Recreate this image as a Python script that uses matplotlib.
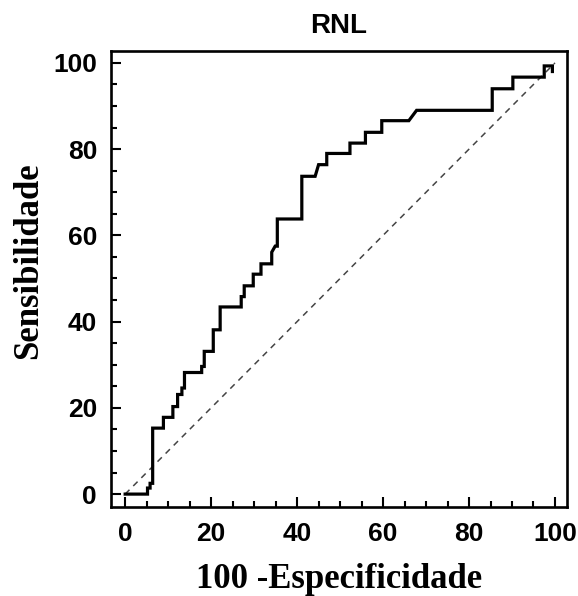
import matplotlib
matplotlib.use("Agg")
import matplotlib.pyplot as plt
from matplotlib.ticker import MultipleLocator

# ROC curve vertices (100 - specificity, sensitivity)
fpr = [0, 5.2, 5.2, 5.8, 5.8, 6.4, 6.4, 8.9, 8.9, 11.1, 11.1, 12.2, 12.2, 13.2, 13.2,
       13.8, 13.8, 17.8, 17.8, 18.4, 18.4, 20.5, 20.5, 22.1, 22.1, 27.0, 27.0, 27.7,
       27.7, 29.8, 29.8, 31.6, 31.6, 34.1, 34.1, 34.9, 35.4, 35.4, 41.1, 41.1, 44.2,
       45.0, 46.9, 46.9, 52.3, 52.3, 55.9, 55.9, 59.7, 59.7, 66.0, 67.8, 85.4, 85.4,
       90.2, 90.2, 97.5, 97.5, 99.4, 99.4]
tpr = [0, 0, 1.4, 1.4, 2.5, 2.5, 15.3, 15.3, 17.8, 17.8, 20.3, 20.3, 23.1, 23.1, 24.6,
       24.6, 28.2, 28.2, 29.6, 29.6, 33.1, 33.1, 38.1, 38.1, 43.4, 43.4, 45.8, 45.8,
       48.3, 48.3, 51.0, 51.0, 53.4, 53.4, 56.1, 57.5, 57.5, 63.8, 63.8, 73.7, 73.7,
       76.4, 76.4, 79.0, 79.0, 81.4, 81.4, 83.9, 83.9, 86.6, 86.6, 89.0, 89.0, 94.0,
       94.0, 96.7, 96.7, 99.3, 99.3, 98.0]

# chance line
diag_x = [0, 100]
diag_y = [0, 100]

fig = plt.figure(figsize=(5.78, 5.96), dpi=100)
ax = fig.add_axes([0.192, 0.150, 0.789, 0.764])

ax.plot(diag_x, diag_y, color="#444444", linestyle=(0, (4, 3.5)), linewidth=1.1)
ax.plot(fpr, tpr, color="black", linewidth=2.3, solid_joinstyle="miter")

ax.set_xlim(-3.3, 102.8)
ax.set_ylim(-2.9, 102.7)
ax.xaxis.set_major_locator(MultipleLocator(20))
ax.xaxis.set_minor_locator(MultipleLocator(5))
ax.yaxis.set_major_locator(MultipleLocator(20))
ax.yaxis.set_minor_locator(MultipleLocator(5))

for side in ax.spines.values():
    side.set_linewidth(1.9)

ax.tick_params(which="major", direction="in", length=7, width=1.5)
ax.tick_params(which="minor", direction="in", length=4, width=1.5)
ax.tick_params(axis="x", which="major", pad=11)
ax.tick_params(axis="y", which="major", pad=10)

for lbl in ax.get_xticklabels() + ax.get_yticklabels():
    lbl.set_fontfamily("Liberation Sans")
    lbl.set_fontweight("bold")
    lbl.set_fontsize(19)

ax.set_title("RNL", fontfamily="Liberation Sans", fontweight="bold", fontsize=20, pad=13)
ax.set_xlabel("100 -Especificidade", fontfamily="Liberation Serif", fontweight="bold",
              fontsize=25, labelpad=12)
ax.set_ylabel("Sensibilidade", fontfamily="Liberation Serif", fontweight="bold",
              fontsize=25, labelpad=6, y=0.54)

fig.savefig("out.png", dpi=100)
